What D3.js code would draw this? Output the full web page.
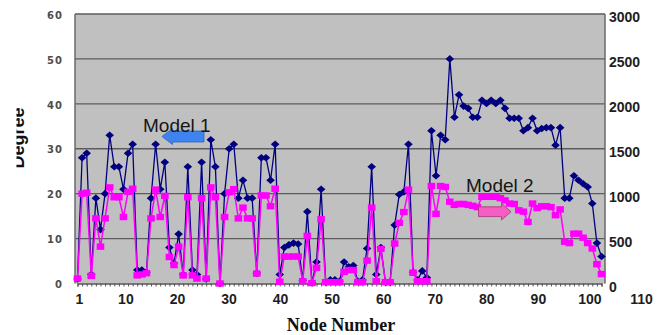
<!DOCTYPE html>
<html>
<head>
<meta charset="utf-8">
<script src="https://cdn.jsdelivr.net/npm/d3@7"></script>
<style>
  html, body { margin: 0; padding: 0; background: #fff; }
  svg { display: block; }
</style>
</head>
<body>
<div id="main"></div>
<script>
!(function () {
  'use strict';
  // - - - - - - - - - -

  // data (left axis: degree, right axis: model 2)
  const degree = [
    1, 28, 29, 2, 19, 12, 20, 33, 26, 26,
    21, 29, 31, 3, 3, 2.5, 19, 31, 21, 27,
    8, 4.5, 11, 2, 26, 3, 2, 27, 1, 32,
    26, 0, 20, 30, 31, 19, 23, 19, 19, 2.3,
    28, 28, 23, 31, 2, 8, 8.6, 9, 8.8, 0.7,
    16, 0.2, 4.8, 21, 0.3, 0.8, 0.8, 0.5, 4.8, 3.7,
    4, 0.5, 0.8, 7.8, 26, 2, 8, 0.3, 0.3, 13,
    19.8, 20.4, 31, 2.5, 0.8, 2.8, 1.3, 34, 24, 33,
    32, 50, 37, 42, 39.5, 39, 37, 37, 40.8, 40.1,
    40.8, 40.1, 40.8, 39, 36.8, 36.8, 36.8, 34, 34.7, 36.8,
    34, 34.5, 34.7, 34.7, 30.8, 34.7, 19, 19, 24, 23,
    22.2, 21.5, 17.8, 9, 6
  ];
  const model2 = [
    55, 1000, 1010, 85, 725, 410, 725, 1070, 960, 960,
    740, 1020, 1055, 90, 100, 115, 725, 1045, 740, 975,
    295, 205, 410, 90, 960, 90, 55, 950, 55, 1070,
    960, 0, 740, 1015, 1050, 725, 845, 725, 725, 110,
    980, 980, 860, 1055, 20, 300, 300, 300, 300, 25,
    530, 5, 175, 715, 15, 15, 15, 15, 130, 150,
    150, 15, 15, 255, 845, 25, 385, 15, 15, 445,
    675, 795, 1045, 120, 25, 25, 25, 1085, 775, 1085,
    1075, 910, 875, 885, 885, 875, 865, 850, 965, 965,
    965, 965, 950, 925, 890, 885, 815, 800, 685, 890,
    840, 860, 860, 850, 760, 825, 465, 450, 555, 555,
    510, 450, 390, 215, 105
  ];
  const nodes = degree.map((d, i) => i + 1);
  const xTickLabels = [1, 10, 20, 30, 40, 50, 60, 70, 80, 90, 100, 110];
  const leftTicks = [0, 10, 20, 30, 40, 50, 60];
  const rightTicks = [0, 500, 1000, 1500, 2000, 2500, 3000];

  // canvas
  const canvas = {
    width: 668,
    height: 335,
    plot: { left: 75, top: 14, right: 605, bottom: 283.5 }
  };
  const p = canvas.plot;

  const svg = d3.select('#main')
    .append('svg')
    .attr('width', canvas.width)
    .attr('height', canvas.height);

  // scales
  const xNode = d3.scaleLinear().domain([1, nodes.length]).range([77.5, 601.5]);
  const xLabel = d3.scaleLinear().domain([1, 110]).range([79, 641]);
  const yLeft = d3.scaleLinear().domain([0, 60]).range([p.bottom, p.top]);
  const yRight = d3.scaleLinear().domain([0, 3000]).range([p.bottom, p.top]);

  // plot area
  svg.append('rect')
    .attr('x', p.left)
    .attr('y', p.top)
    .attr('width', p.right - p.left)
    .attr('height', p.bottom - p.top)
    .attr('fill', '#c0c0c0');

  // grid lines
  svg.append('g')
    .selectAll('line')
    .data(leftTicks.slice(1))
    .enter()
    .append('line')
    .attr('x1', p.left)
    .attr('x2', p.right)
    .attr('y1', d => yLeft(d))
    .attr('y2', d => yLeft(d))
    .attr('stroke', '#5c5c5c')
    .attr('stroke-width', 1.3);

  // frame lines
  svg.append('line')
    .attr('x1', p.left).attr('x2', p.left)
    .attr('y1', p.top).attr('y2', p.bottom)
    .attr('stroke', '#6a6a6a').attr('stroke-width', 1.5);
  svg.append('line')
    .attr('x1', p.right).attr('x2', p.right)
    .attr('y1', p.top).attr('y2', p.bottom)
    .attr('stroke', '#6a6a6a').attr('stroke-width', 1.5);

  // small node ticks along the bottom
  const minorAxis = svg.append('g')
    .attr('transform', 'translate(0,' + p.bottom + ')')
    .call(d3.axisBottom(xNode).tickValues(nodes).tickSize(3).tickFormat(''));
  minorAxis.select('.domain').attr('stroke', '#555').attr('stroke-width', 1.3);
  minorAxis.selectAll('.tick line').attr('stroke', '#555');

  // x labels
  const xAxis = svg.append('g')
    .attr('transform', 'translate(0,' + p.bottom + ')')
    .call(d3.axisBottom(xLabel).tickValues(xTickLabels).tickSize(0).tickPadding(11));
  xAxis.select('.domain').remove();
  xAxis.selectAll('text')
    .attr('font-family', 'Liberation Sans, Arial, sans-serif')
    .attr('font-weight', 'bold')
    .attr('font-size', 14)
    .attr('fill', '#1e1e1e');

  // left axis labels
  const leftAxis = svg.append('g')
    .attr('transform', 'translate(' + p.left + ',0)')
    .call(d3.axisLeft(yLeft).tickValues(leftTicks).tickSize(0).tickPadding(12));
  leftAxis.select('.domain').remove();
  leftAxis.selectAll('text')
    .attr('dy', '0.42em')
    .attr('font-family', 'DejaVu Sans, sans-serif')
    .attr('font-weight', 'bold')
    .attr('font-size', 10)
    .attr('letter-spacing', 1)
    .attr('fill', '#4d4d4d');

  // right axis labels
  const rightAxis = svg.append('g')
    .attr('transform', 'translate(' + p.right + ',0)')
    .call(d3.axisRight(yRight).tickValues(rightTicks).tickSize(0).tickPadding(4)
      .tickFormat(d3.format('d')));
  rightAxis.select('.domain').remove();
  rightAxis.selectAll('text')
    .attr('dy', '0.55em')
    .attr('font-family', 'Liberation Sans, Arial, sans-serif')
    .attr('font-weight', 'bold')
    .attr('font-size', 14)
    .attr('fill', '#1e1e1e');

  // axis titles (the y title is cut on its left side, as in the source)
  svg.append('clipPath')
    .attr('id', 'titleClip')
    .append('rect')
    .attr('x', 16.5).attr('y', 0)
    .attr('width', 40).attr('height', canvas.height);
  svg.append('g')
    .attr('clip-path', 'url(#titleClip)')
    .append('text')
    .attr('transform', 'translate(23.5,138) rotate(-90)')
    .attr('text-anchor', 'middle')
    .attr('font-family', 'Liberation Sans, Arial, sans-serif')
    .attr('font-weight', 'bold')
    .attr('font-size', 18)
    .attr('fill', '#111')
    .text('Degree');

  svg.append('text')
    .attr('x', 341)
    .attr('y', 331)
    .attr('text-anchor', 'middle')
    .attr('font-family', 'Liberation Serif, Times New Roman, serif')
    .attr('font-weight', 'bold')
    .attr('font-size', 18)
    .attr('fill', '#111')
    .text('Node Number');

  // series
  const seriesDegree = nodes.map((n, i) => ({ n: n, v: degree[i] }));
  const seriesModel2 = nodes.map((n, i) => ({ n: n, v: model2[i] }));

  const lineLeft = d3.line().x(d => xNode(d.n)).y(d => yLeft(d.v));
  const lineRight = d3.line().x(d => xNode(d.n)).y(d => yRight(d.v));

  svg.append('path')
    .datum(seriesDegree)
    .attr('d', lineLeft)
    .attr('fill', 'none')
    .attr('stroke', '#000080')
    .attr('stroke-width', 1.3);

  svg.append('g')
    .selectAll('path')
    .data(seriesDegree)
    .enter()
    .append('path')
    .attr('d', 'M0,-3.8L4.3,0L0,3.8L-4.3,0Z')
    .attr('transform', d => 'translate(' + xNode(d.n) + ',' + yLeft(d.v) + ')')
    .attr('fill', '#000080');

  svg.append('path')
    .datum(seriesModel2)
    .attr('d', lineRight)
    .attr('fill', 'none')
    .attr('stroke', '#ff00ff')
    .attr('stroke-width', 1.5);

  svg.append('g')
    .selectAll('rect')
    .data(seriesModel2)
    .enter()
    .append('rect')
    .attr('x', d => xNode(d.n) - 3.8)
    .attr('y', d => yRight(d.v) - 3.2)
    .attr('width', 7.6)
    .attr('height', 6.4)
    .attr('fill', '#ff00ff');

  // annotations
  svg.append('path')
    .attr('d', 'M162,136.5L172.5,128.5L172.5,131L204,131L204,142L172.5,142L172.5,144.5Z')
    .attr('fill', '#3f83ee')
    .attr('stroke', '#2f62c4')
    .attr('stroke-width', 0.8);
  svg.append('text')
    .attr('x', 143)
    .attr('y', 131.5)
    .attr('font-family', 'Liberation Sans, Arial, sans-serif')
    .attr('font-size', 19)
    .attr('fill', '#161616')
    .text('Model 1');

  svg.append('path')
    .attr('d', 'M511,211.7L501.5,203.5L501.5,206.8L478.5,206.8L478.5,216.6L501.5,216.6L501.5,220Z')
    .attr('fill', '#f55ec3')
    .attr('stroke', '#a43476')
    .attr('stroke-width', 0.8);
  svg.append('text')
    .attr('x', 466)
    .attr('y', 191.5)
    .attr('font-family', 'Liberation Sans, Arial, sans-serif')
    .attr('font-size', 19)
    .attr('fill', '#161616')
    .text('Model 2');

  // - - - - - - - - - -
}());
</script>
</body>
</html>
